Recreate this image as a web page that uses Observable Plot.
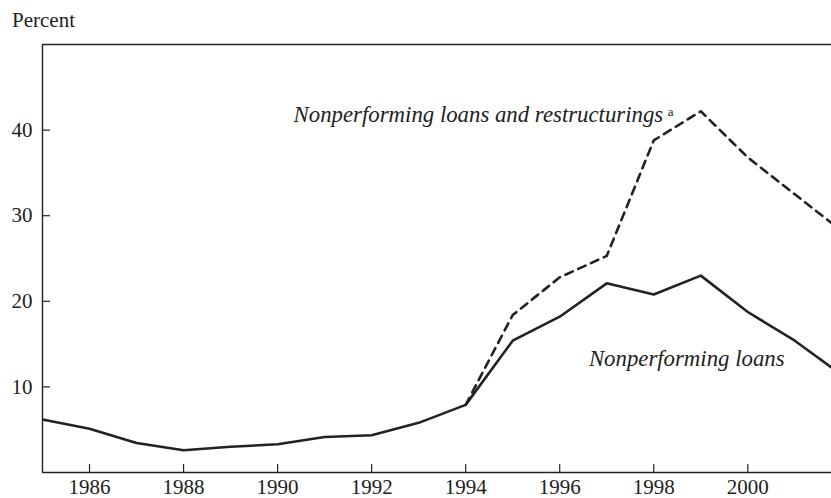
<!DOCTYPE html>
<html><head><meta charset="utf-8">
<script src="https://cdn.jsdelivr.net/npm/d3@7"></script>
<script src="https://cdn.jsdelivr.net/npm/@observablehq/plot@0.6"></script>
<style>
body{margin:0;background:#fff;}
#wrap{position:relative;width:831px;height:498px;overflow:hidden;}
#unit{position:absolute;left:12px;top:10px;font:21px/21px "Liberation Serif",serif;color:#222;}
</style></head><body><div id="wrap"><div id="unit">Percent</div><div id="chart"></div></div>
<script>
const years = [1985,1986,1987,1988,1989,1990,1991,1992,1993,1994,1995,1996,1997,1998,1999,2000,2001,2002];
const nonperforming = [6.2,5.1,3.45,2.6,3.0,3.3,4.15,4.35,5.8,7.9,15.4,18.2,22.1,20.8,23.0,18.75,15.4,11.4];
const withRestructurings = [null,null,null,null,null,null,null,null,null,7.9,18.4,22.8,25.3,38.8,42.2,36.8,32.5,28.2];
const xTicks = [1986,1988,1990,1992,1994,1996,1998,2000];
const yTicks = [10,20,30,40];
const labels = [
  {x: 1990.34, y: 40.95, text: "Nonperforming loans and restructurings", style: "italic"},
  {x: 1998.3, y: 41.6, text: "a", style: "normal"},
  {x: 1996.62, y: 12.5, text: "Nonperforming loans", style: "italic"}
];

const rows = years.map((year, i) => ({year, npl: nonperforming[i], nplr: withRestructurings[i]}));
const ink = "#222";

const chart = Plot.plot({
  width: 831, height: 498,
  marginTop: 44, marginBottom: 26, marginLeft: 42, marginRight: 0,
  style: {fontFamily: '"Liberation Serif", serif', fontSize: "21px", color: ink, background: "#fff"},
  x: {domain: [1985, 2001.78]},
  y: {domain: [0, 50]},
  marks: [
    Plot.ruleX([1985], {stroke: ink, strokeWidth: 1.4}),
    Plot.ruleY([0, 50], {stroke: ink, strokeWidth: 1.4}),
    Plot.axisX(xTicks, {tickSize: -8, tickPadding: 15, tickFormat: d => String(d), label: null, stroke: ink, strokeWidth: 1.2}),
    Plot.axisY(yTicks, {tickSize: -8, tickPadding: 18, label: null, stroke: ink, strokeWidth: 1.2}),
    Plot.line(rows, {x: "year", y: "npl", stroke: ink, strokeWidth: 2.6, clip: true}),
    Plot.line(rows, {x: "year", y: "nplr", stroke: ink, strokeWidth: 2.6, strokeDasharray: "8,6", clip: true, defined: d => d.nplr != null}),
    Plot.text(labels.filter(d => d.style === "italic"), {x: "x", y: "y", text: "text", fontSize: 22.8, fontStyle: "italic", textAnchor: "start", lineAnchor: "bottom", fill: ink}),
    Plot.text(labels.filter(d => d.style === "normal"), {x: "x", y: "y", text: "text", fontSize: 13, textAnchor: "start", lineAnchor: "bottom", fill: ink})
  ]
});
document.getElementById("chart").appendChild(chart);
</script></body></html>
